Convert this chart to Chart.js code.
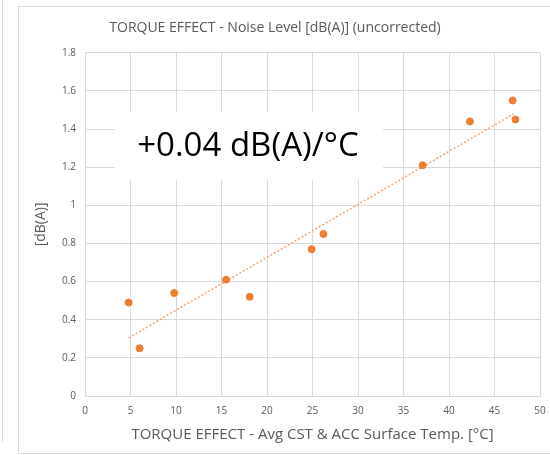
<!DOCTYPE html>
<html>
<head>
<meta charset="utf-8">
<script src="https://cdn.jsdelivr.net/npm/chart.js@4"></script>
<style>
  html, body { margin: 0; padding: 0; background: #fff; }
  #wrap { position: relative; width: 550px; height: 455px; overflow: hidden; }
  #frame { position: absolute; left: 18px; top: 6px; width: 560px; height: 446px; border: 1px solid #d9d9d9; }
  #side { position: absolute; left: 2px; top: 0; width: 1px; height: 442px; background: #d9d9d9; }
  canvas { position: absolute; left: 0; top: 0; }
</style>
</head>
<body>
<div id="wrap">
  <div id="side"></div>
  <div id="frame"></div>
  <canvas id="chart" width="550" height="455"></canvas>
</div>
<script>
const tempC = [4.8, 6.0, 9.8, 15.5, 18.1, 24.9, 26.2, 37.1, 42.3, 47.0, 47.3];
const noiseDb = [0.49, 0.25, 0.54, 0.61, 0.52, 0.77, 0.85, 1.21, 1.44, 1.55, 1.45];
const trendX = [4.8, 47.1];
const trendY = [0.305, 1.48];
const slopeLabel = "+0.04 dB(A)/°C";

const font = "'Open Sans', 'Noto Sans', sans-serif";
const grey = "#595959";
const orange = "#ED7D31";

const labelBox = {
  id: "labelBox",
  afterDatasetsDraw(chart) {
    const ctx = chart.ctx;
    const a = chart.chartArea;
    ctx.save();
    ctx.fillStyle = "#fff";
    ctx.fillRect(a.left + 30, a.top + 59, 268, 68);
    ctx.fillStyle = "#000";
    ctx.font = "33px " + font;
    ctx.textAlign = "center";
    ctx.textBaseline = "middle";
    ctx.fillText(slopeLabel, a.left + 163, a.top + 94);
    ctx.restore();
  }
};

new Chart(document.getElementById("chart"), {
  type: "scatter",
  data: {
    datasets: [
      {
        label: "Noise",
        data: tempC.map((t, i) => ({ x: t, y: noiseDb[i] })),
        backgroundColor: orange,
        borderColor: orange,
        pointRadius: 3.5,
        pointHoverRadius: 3.5,
        order: 1
      },
      {
        label: "Trend",
        type: "line",
        data: trendX.map((t, i) => ({ x: t, y: trendY[i] })),
        borderColor: "#F4A36C",
        borderWidth: 1.5,
        borderDash: [2, 2],
        pointRadius: 0,
        fill: false,
        order: 2
      }
    ]
  },
  options: {
    responsive: false,
    animation: false,
    layout: { padding: { left: 0, right: 0, top: 0, bottom: 0 } },
    plugins: {
      legend: { display: false },
      tooltip: { enabled: false },
      title: {
        display: true,
        text: "TORQUE EFFECT - Noise Level [dB(A)] (uncorrected)",
        color: grey,
        font: { family: font, size: 14, weight: "normal" },
        padding: { top: 20, bottom: 16 }
      }
    },
    scales: {
      x: {
        type: "linear",
        min: 0,
        max: 50,
        ticks: { stepSize: 5, color: grey, font: { family: font, size: 10 }, padding: 9 },
        grid: { color: "#d9d9d9", drawTicks: false },
        border: { color: "#d9d9d9" },
        title: {
          display: true,
          text: "TORQUE EFFECT - Avg CST & ACC Surface Temp. [°C]",
          color: grey,
          font: { family: font, size: 15 },
          padding: { top: 0, bottom: 11 }
        },
        afterFit(scale) { scale.paddingRight = 10; }
      },
      y: {
        min: 0,
        max: 1.8,
        ticks: {
          stepSize: 0.2, color: grey, font: { family: font, size: 10 }, padding: 9,
          callback: v => String(Number(v.toFixed(1)))
        },
        grid: { color: "#d9d9d9", drawTicks: false },
        border: { color: "#d9d9d9" },
        title: {
          display: true,
          text: "[dB(A)]",
          color: grey,
          font: { family: font, size: 14 },
          padding: { top: 33, bottom: 0 }
        },
        afterFit(scale) { scale.width = 85; }
      }
    }
  },
  plugins: [labelBox]
});
</script>
</body>
</html>
